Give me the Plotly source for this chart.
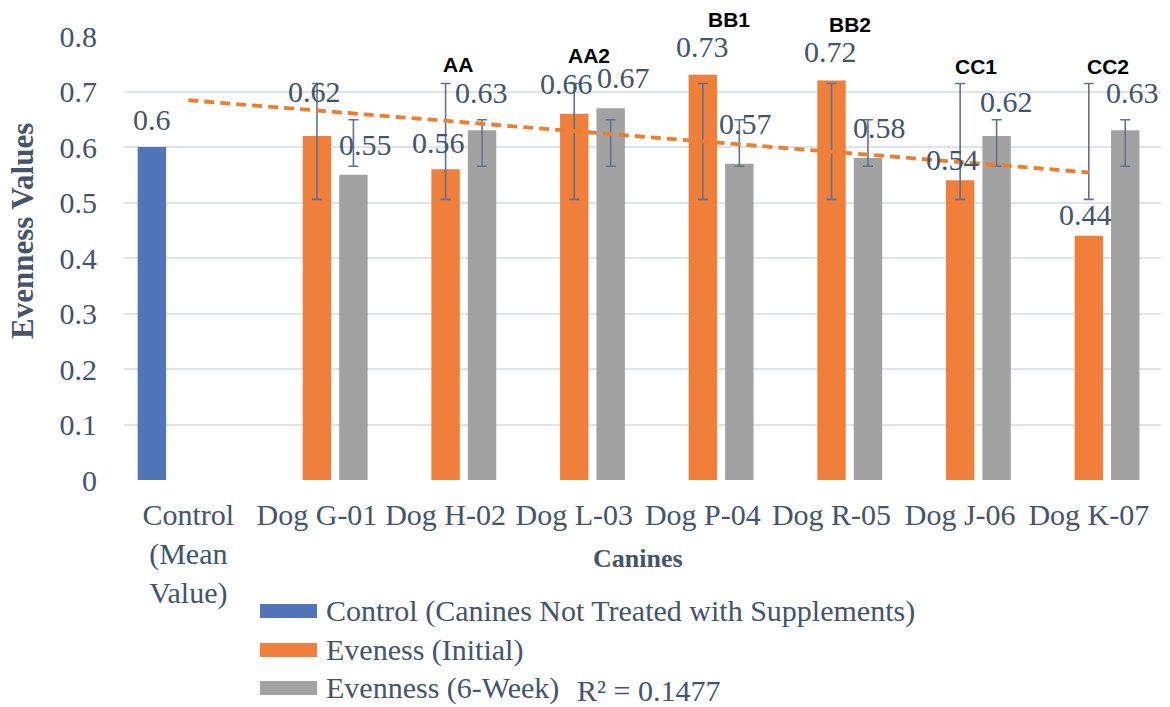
import numpy as np
import plotly.graph_objects as go

# ---------------- data ----------------
categories = ["Control<br>(Mean<br>Value)", "Dog G-01", "Dog H-02", "Dog L-03",
              "Dog P-04", "Dog R-05", "Dog J-06", "Dog K-07"]
series_names = ["Control (Canines Not Treated with Supplements)",
                "Eveness (Initial)", "Evenness (6-Week)"]
control_vals = [0.60, None, None, None, None, None, None, None]
initial_vals = [None, 0.62, 0.56, 0.66, 0.73, 0.72, 0.54, 0.44]
week6_vals = [None, 0.55, 0.63, 0.67, 0.57, 0.58, 0.62, 0.63]
group_labels = ["", "", "AA", "AA2", "BB1", "BB2", "CC1", "CC2"]
y_ticks = [0, 0.1, 0.2, 0.3, 0.4, 0.5, 0.6, 0.7, 0.8]

# ---------------- styles ----------------
C_BLUE = "#5274B9"
C_ORANGE = "#EF7F3A"
C_GRAY = "#A2A2A2"
C_TEXT = "#44546A"
C_ERR = "#5D7394"
SERIF = "Liberation Serif, Times New Roman, serif"
SANS = "Liberation Sans, Arial, sans-serif"

L, R, T, B = 124, 9, 36, 227
W, H = 1170, 707
PW, PH = W - L - R, H - T - B
SLOT = 36.7  # pixel spacing between grouped bars

def xp(px):
    return (px - L) / PW

def yp(py):
    return (H - B - py) / PH


# Excel "standard deviation" error bars: centred on series mean, +/- sample SD
def sd_errors(vals):
    v = np.array([x for x in vals if x is not None])
    m, s = v.mean(), v.std(ddof=1)
    plus = [None if x is None else (m + s) - x for x in vals]
    minus = [None if x is None else x - (m - s) for x in vals]
    return plus, minus

ip, im = sd_errors(initial_vals)
wp, wm = sd_errors(week6_vals)

# linear trendline on initial series (x = 1..8 category index)
xi = np.array([i + 1 for i, v in enumerate(initial_vals) if v is not None])
yi = np.array([v for v in initial_vals if v is not None])
slope, icpt = np.polyfit(xi, yi, 1)
trend_y = [slope * (i + 1) + icpt for i in range(len(categories))]
r2 = np.corrcoef(xi, yi)[0, 1] ** 2

fig = go.Figure()
err_style = dict(type="data", color=C_ERR, thickness=1.6, width=5, symmetric=False)
fig.add_trace(go.Bar(x=categories, y=control_vals, name=series_names[0],
                     marker=dict(color=C_BLUE, line=dict(width=0)), showlegend=False))
fig.add_trace(go.Bar(x=categories, y=initial_vals, name=series_names[1],
                     marker=dict(color=C_ORANGE, line=dict(width=0)), showlegend=False,
                     error_y=dict(array=ip, arrayminus=im, **err_style)))
fig.add_trace(go.Bar(x=categories, y=week6_vals, name=series_names[2],
                     marker=dict(color=C_GRAY, line=dict(width=0)), showlegend=False,
                     error_y=dict(array=wp, arrayminus=wm, **err_style)))
fig.add_trace(go.Scatter(x=categories, y=trend_y, mode="lines", showlegend=False,
                         line=dict(color="#ED7D31", width=3.8, dash="10px,6px"),
                         hoverinfo="skip"))

# data labels (manually offset as in the original)
ctrl_off = [(0, 28)]
init_off = [(-2, 44), (-7, 27), (-8, 30), (0, 28), (-1, 29), (-8, 21), (-3, 21)]
week_off = [(12, 30), (-1, 38), (13, 31), (6, 40), (11, 31), (10, 34), (7, 38)]

annotations = []
def add_labels(vals, offsets, slot):
    k = 0
    for cat, v in zip(categories, vals):
        if v is None:
            continue
        dx, dy = offsets[k]
        k += 1
        annotations.append(dict(x=cat, y=v, xref="x", yref="y", text=f"{v:g}",
                                showarrow=False, xanchor="center", yanchor="middle",
                                xshift=slot * SLOT + dx, yshift=dy,
                                font=dict(family=SERIF, size=30, color=C_TEXT)))

add_labels(control_vals, ctrl_off, -1)
add_labels(initial_vals, init_off, 0)
add_labels(week6_vals, week_off, 1)

# group tags (x shift from category centre, y pixel from top)
tag_pos = {"AA": (12, 64), "AA2": (15, 56), "BB1": (26, 20),
           "BB2": (18, 25), "CC1": (16, 67), "CC2": (19, 67)}
for cat, tag in zip(categories, group_labels):
    if not tag:
        continue
    dx, py = tag_pos[tag]
    annotations.append(dict(x=cat, y=yp(py), xref="x", yref="paper", text=f"<b>{tag}</b>",
                            showarrow=False, xshift=dx, xanchor="center", yanchor="middle",
                            font=dict(family=SANS, size=21, color="#000000")))

# axis titles
annotations.append(dict(x=xp(23), y=yp(231), xref="paper", yref="paper",
                        text="<b>Evenness Values</b>", textangle=-90, showarrow=False,
                        xanchor="center", yanchor="middle",
                        font=dict(family=SERIF, size=31, color=C_TEXT)))
annotations.append(dict(x=xp(638), y=yp(558), xref="paper", yref="paper",
                        text="<b>Canines</b>", showarrow=False,
                        xanchor="center", yanchor="middle",
                        font=dict(family=SERIF, size=26, color=C_TEXT)))

# manual legend
shapes = []
leg_y = [611, 650, 688]
for name, col, cy in zip(series_names, [C_BLUE, C_ORANGE, C_GRAY], leg_y):
    shapes.append(dict(type="rect", xref="paper", yref="paper",
                       x0=xp(260), x1=xp(317), y0=yp(cy + 7), y1=yp(cy - 7),
                       fillcolor=col, line=dict(width=0)))
    annotations.append(dict(x=xp(324), y=yp(cy), xref="paper", yref="paper",
                            text=name, showarrow=False, xanchor="left", yanchor="middle",
                            font=dict(family=SERIF, size=30, color=C_TEXT)))
annotations.append(dict(x=xp(575), y=yp(690), xref="paper", yref="paper",
                        text=f"R² = {r2:.4f}", showarrow=False,
                        xanchor="left", yanchor="middle",
                        font=dict(family=SERIF, size=30, color=C_TEXT)))

fig.update_layout(
    width=W, height=H,
    margin=dict(l=L, r=R, t=T, b=B, autoexpand=False),
    paper_bgcolor="white", plot_bgcolor="white",
    barmode="group", bargap=0.15, bargroupgap=0.22,
    annotations=annotations, shapes=shapes,
    xaxis=dict(type="category", showgrid=False, showline=False, ticks="",
               ticklabelstandoff=14,
               tickfont=dict(family=SERIF, size=30, color=C_TEXT),
               automargin=False),
    yaxis=dict(range=[0, 0.8], tickvals=y_ticks, ticktext=[f"{t:g}" for t in y_ticks],
               showgrid=True, gridcolor="#DDE3EA", gridwidth=1.5, zeroline=False,
               showline=False, ticks="", ticklabelstandoff=26,
               tickfont=dict(family=SERIF, size=30, color=C_TEXT),
               automargin=False),
)

fig.write_html("out.html", config={"displayModeBar": False},
               post_script="document.body.style.margin='0px';")
